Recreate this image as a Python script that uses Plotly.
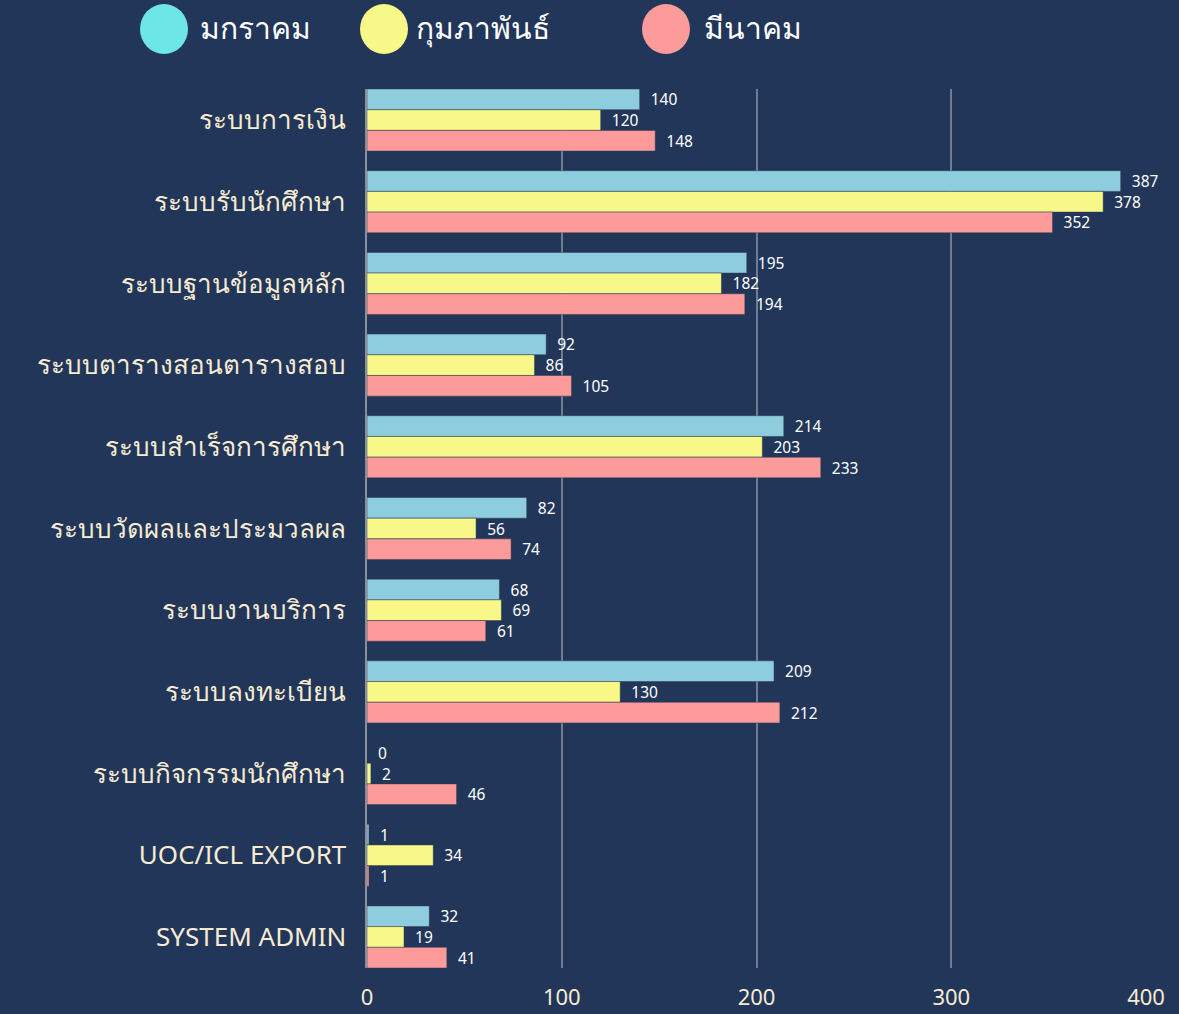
import plotly.graph_objects as go

categories = ["ระบบการเงิน", "ระบบรับนักศึกษา", "ระบบฐานข้อมูลหลัก", "ระบบตารางสอนตารางสอบ",
              "ระบบสำเร็จการศึกษา", "ระบบวัดผลและประมวลผล", "ระบบงานบริการ", "ระบบลงทะเบียน",
              "ระบบกิจกรรมนักศึกษา", "UOC/ICL EXPORT", "SYSTEM ADMIN"]
series_names = ["มกราคม", "กุมภาพันธ์", "มีนาคม"]
jan = [140, 387, 195, 92, 214, 82, 68, 209, 0, 1, 32]
feb = [120, 378, 182, 86, 203, 56, 69, 130, 2, 34, 19]
mar = [148, 352, 194, 105, 233, 74, 61, 212, 46, 1, 41]
x_ticks = [0, 100, 200, 300, 400]

bar_colors = ["#8ecddd", "#f8f888", "#fd9a9a"]
legend_colors = ["#6ee6e8", "#f8f888", "#fd9a9a"]
BG = "#22365a"
CREAM = "#f7ecd2"
FONT = "Noto Sans, DejaVu Sans, sans-serif"

W, H = 1179, 1014
ML, MR, MT, MB = 367, 33, 89, 46

fig = go.Figure()
for name, vals, col in zip(series_names, [jan, feb, mar], bar_colors):
    fig.add_trace(go.Bar(
        y=categories, x=vals, name=name, orientation="h",
        marker=dict(color=col, line=dict(color="rgba(40,55,80,0.6)", width=0.8)),
        text=["  " + str(v) for v in vals], textposition="outside",
        textfont=dict(color="white", size=18, family=FONT),
        cliponaxis=False, showlegend=False,
    ))

def px_x(p):
    return (p - ML) / (W - ML - MR)

def px_y(p):
    return (H - MB - p) / (H - MT - MB)

# custom legend (circles + labels)
legend_pos = [(164, 198), (384, 414), (666, 702)]
for (cx, tx), col, name in zip(legend_pos, legend_colors, series_names):
    fig.add_shape(type="circle", xref="paper", yref="paper",
                  x0=px_x(cx - 24), x1=px_x(cx + 24), y0=px_y(29 + 25), y1=px_y(29 - 25),
                  fillcolor=col, line=dict(width=0))
    fig.add_annotation(xref="paper", yref="paper", x=px_x(tx), y=px_y(28),
                       xanchor="left", yanchor="middle", text=name, showarrow=False,
                       font=dict(color="white", size=30, family=FONT))

n = len(categories)
fig.update_layout(
    width=W, height=H,
    paper_bgcolor=BG, plot_bgcolor=BG,
    barmode="group", bargap=0.24, bargroupgap=0,
    margin=dict(l=ML, r=MR, t=MT, b=MB, autoexpand=False),
    font=dict(family=FONT, color=CREAM),
    xaxis=dict(range=[0, 400], tickvals=x_ticks, showgrid=True, gridcolor="#6f7c92",
               gridwidth=1.5, zeroline=False, showline=False, ticklabelstandoff=14,
               automargin=False,
               tickfont=dict(size=22, color=CREAM, family=FONT), ticks=""),
    yaxis=dict(categoryorder="array", categoryarray=categories,
               range=[n - 1 + 0.38, -0.38], automargin=False,
               showline=True, linecolor="#8a8f99", linewidth=2, ticks="",
               ticksuffix="  ", tickfont=dict(size=26, color=CREAM, family=FONT)),
)

fig.write_html("out.html", config={"displayModeBar": False},
               post_script="document.body.style.margin='0';document.body.style.background='%s';" % BG)
